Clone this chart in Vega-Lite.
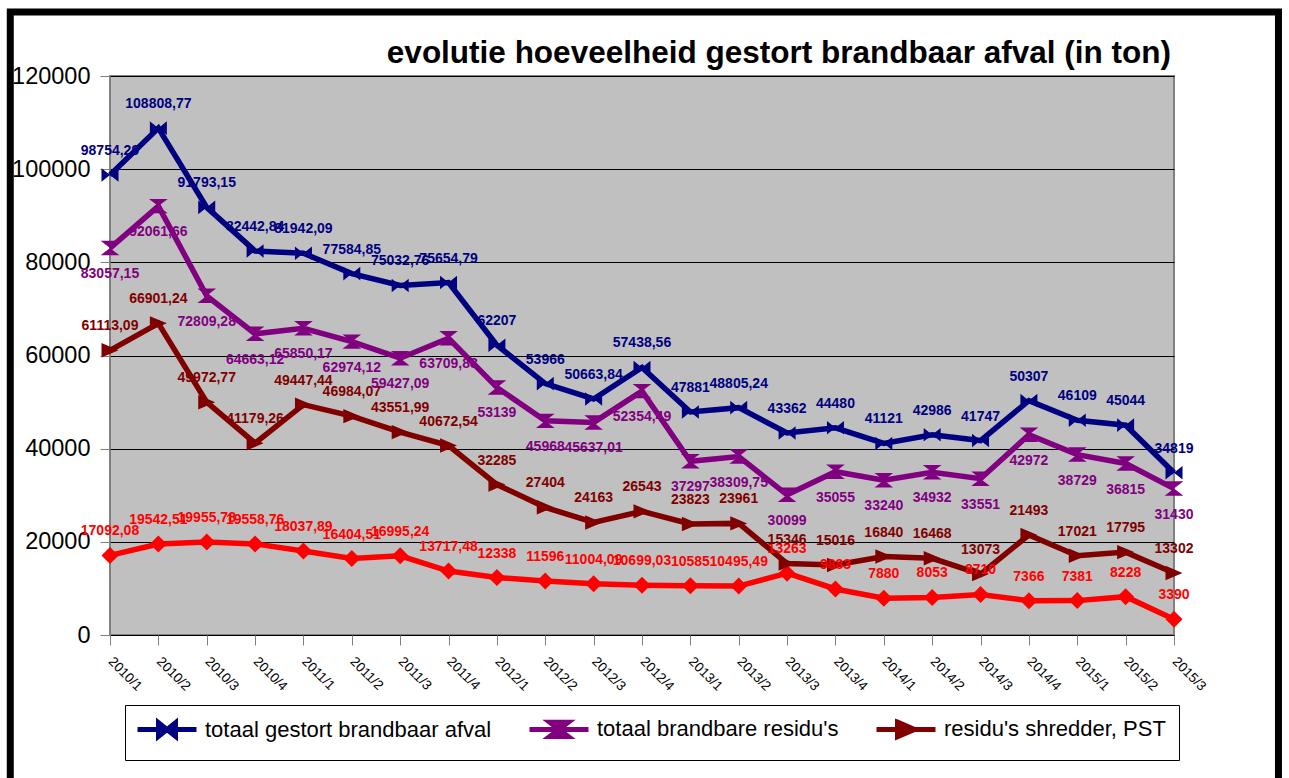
{
  "$schema": "https://vega.github.io/schema/vega-lite/v6.json",
  "autosize": {"type": "none"},
  "width": 1064,
  "height": 559,
  "padding": {"left": 110, "top": 76, "right": 115, "bottom": 143},
  "background": "#FFFFFF",
  "title": {
    "text": "evolutie hoeveelheid gestort brandbaar afval (in ton)",
    "anchor": "end",
    "frame": "group",
    "font": "Liberation Sans",
    "fontSize": 31.5,
    "fontWeight": "bold",
    "color": "#000000",
    "baseline": "alphabetic",
    "offset": 0,
    "dy": 86,
    "dx": -3
  },
  "datasets": {
    "kwartalen": [
      {"i": 0, "q": "2010/1", "g": 98754.29, "r": 83057.15, "s": 61113.09, "o": 17092.08},
      {"i": 1, "q": "2010/2", "g": 108808.77, "r": 92061.66, "s": 66901.24, "o": 19542.51},
      {"i": 2, "q": "2010/3", "g": 91793.15, "r": 72809.28, "s": 49972.77, "o": 19955.78},
      {"i": 3, "q": "2010/4", "g": 82442.84, "r": 64663.12, "s": 41179.26, "o": 19558.76},
      {"i": 4, "q": "2011/1", "g": 81942.09, "r": 65850.17, "s": 49447.44, "o": 18037.89},
      {"i": 5, "q": "2011/2", "g": 77584.85, "r": 62974.12, "s": 46984.07, "o": 16404.51},
      {"i": 6, "q": "2011/3", "g": 75032.76, "r": 59427.09, "s": 43551.99, "o": 16995.24},
      {"i": 7, "q": "2011/4", "g": 75654.79, "r": 63709.88, "s": 40672.54, "o": 13717.48},
      {"i": 8, "q": "2012/1", "g": 62207, "r": 53139, "s": 32285, "o": 12338},
      {"i": 9, "q": "2012/2", "g": 53966, "r": 45968, "s": 27404, "o": 11596},
      {"i": 10, "q": "2012/3", "g": 50663.84, "r": 45637.01, "s": 24163, "o": 11004.09},
      {"i": 11, "q": "2012/4", "g": 57438.56, "r": 52354.49, "s": 26543, "o": 10699.03},
      {"i": 12, "q": "2013/1", "g": 47881, "r": 37297, "s": 23823, "o": 10585},
      {"i": 13, "q": "2013/2", "g": 48805.24, "r": 38309.75, "s": 23961, "o": 10495.49},
      {"i": 14, "q": "2013/3", "g": 43362, "r": 30099, "s": 15346, "o": 13263},
      {"i": 15, "q": "2013/4", "g": 44480, "r": 35055, "s": 15016, "o": 9883},
      {"i": 16, "q": "2014/1", "g": 41121, "r": 33240, "s": 16840, "o": 7880},
      {"i": 17, "q": "2014/2", "g": 42986, "r": 34932, "s": 16468, "o": 8053},
      {"i": 18, "q": "2014/3", "g": 41747, "r": 33551, "s": 13073, "o": 8710},
      {"i": 19, "q": "2014/4", "g": 50307, "r": 42972, "s": 21493, "o": 7366},
      {"i": 20, "q": "2015/1", "g": 46109, "r": 38729, "s": 17021, "o": 7381},
      {"i": 21, "q": "2015/2", "g": 45044, "r": 36815, "s": 17795, "o": 8228},
      {"i": 22, "q": "2015/3", "g": 34819, "r": 31430, "s": 13302, "o": 3390}
    ]
  },
  "data": {"name": "kwartalen"},
  "transform": [
    {"fold": ["o", "s", "r", "g"], "as": ["reeks", "ton"]},
    {"calculate": "replace(toString(datum.ton), '.', ',')", "as": "lbl"},
    {"calculate": "datum.reeks", "as": "merk"}
  ],
  "layer": [
    {
      "mark": {"type": "line", "strokeWidth": 5.5, "strokeJoin": "miter"},
      "encoding": {
        "x": {
          "field": "i", "type": "quantitative",
          "scale": {"domain": [0, 22], "nice": false, "zero": false},
          "axis": {
            "title": null, "values": [0,1,2,3,4,5,6,7,8,9,10,11,12,13,14,15,16,17,18,19,20,21,22],
            "labelExpr": "(floor(datum.value / 4) + 2010) + '/' + (datum.value % 4 + 1)",
            "domain": false, "grid": false, "ticks": true, "tickSize": 10, "tickColor": "#808080", "tickWidth": 1,
            "labelAngle": 45, "labelAlign": "left", "labelBaseline": "middle", "labelPadding": 14,
            "labelFont": "Liberation Sans", "labelFontSize": 13.5, "labelColor": "#000000", "labelOverlap": false
          }
        },
        "y": {
          "field": "ton", "type": "quantitative",
          "scale": {"domain": [0, 120000], "nice": false, "zero": false},
          "axis": {
            "title": null, "values": [0, 20000, 40000, 60000, 80000, 100000, 120000], "format": "d",
            "domain": false, "grid": true, "gridColor": "#000000", "gridWidth": 1, "gridOpacity": 1,
            "ticks": true, "tickSize": 10, "tickColor": "#808080", "tickWidth": 1,
            "labelPadding": 10, "labelFont": "Liberation Sans", "labelFontSize": 23.5, "labelColor": "#000000"
          }
        },
        "color": {
          "field": "reeks", "type": "nominal",
          "scale": {"domain": ["g", "r", "s", "o"], "range": ["#000080", "#800080", "#800000", "#FF0000"]},
          "legend": {
            "orient": "none", "legendX": 15, "legendY": 629, "direction": "horizontal",
            "title": " ", "titleOrient": "left", "titleFontSize": 1, "titlePadding": 18,
            "values": ["g", "r", "s"],
            "labelExpr": "datum.value === 'g' ? 'totaal gestort brandbaar afval' : datum.value === 'r' ? \"totaal brandbare residu's\" : \"residu's shredder, PST\"",
            "strokeColor": "#000000", "fillColor": "#FFFFFF", "padding": 13,
            "labelFont": "Liberation Sans", "labelFontSize": 22, "labelColor": "#000000", "labelLimit": 500,
            "symbolSize": 289, "labelOffset": 27, "columnPadding": 27, "symbolStrokeWidth": 5, "symbolOpacity": 1
          }
        },
        "order": {"field": "i", "type": "quantitative"}
      }
    },
    {
      "mark": {"type": "point", "filled": true, "opacity": 1, "strokeWidth": 0},
      "encoding": {
        "x": {"field": "i", "type": "quantitative"},
        "y": {"field": "ton", "type": "quantitative"},
        "color": {"field": "reeks", "type": "nominal"},
        "stroke": {
          "field": "reeks", "type": "nominal",
          "scale": {"domain": ["g", "r", "s", "o"], "range": ["#000080", "#800080", "#800000", "#FF0000"]},
          "legend": {
            "orient": "none", "legendX": 15, "legendY": 629, "direction": "horizontal",
            "title": " ", "titleOrient": "left", "titleFontSize": 1, "titlePadding": 18,
            "values": ["g", "r", "s"],
            "labelExpr": "datum.value === 'g' ? 'totaal gestort brandbaar afval' : datum.value === 'r' ? \"totaal brandbare residu's\" : \"residu's shredder, PST\"",
            "strokeColor": "#000000", "fillColor": "#FFFFFF", "padding": 13,
            "labelFont": "Liberation Sans", "labelFontSize": 22, "labelColor": "#000000", "labelLimit": 500,
            "symbolSize": 289, "labelOffset": 27, "columnPadding": 27, "symbolStrokeWidth": 5, "symbolOpacity": 1
          }
        },
        "shape": {
          "field": "reeks", "type": "nominal",
          "scale": {"domain": ["g", "r", "s", "o"], "range": ["M-3.47,0H3.47M-1,-0.8L1,0.8L1,-0.8L-1,0.8Z", "M-3.47,0H3.47M-1.1,-0.85L1.1,-0.85L-1.1,0.85L1.1,0.85Z", "M-3.47,0H3.47M-1,-0.85L1,0L-1,0.85Z", "M0,-1L1,0L0,1L-1,0Z"]}
        },
        "size": {
          "field": "merk", "type": "nominal",
          "scale": {"domain": ["g", "r", "s", "o"], "range": [289, 289, 289, 289]},
          "legend": null
        }
      }
    },
    {
      "transform": [{"filter": "datum.reeks !== 'r'"}],
      "mark": {"type": "text", "font": "Liberation Sans", "fontSize": 14, "fontWeight": "bold", "dy": -24, "baseline": "middle", "align": "center"},
      "encoding": {
        "x": {"field": "i", "type": "quantitative"},
        "y": {"field": "ton", "type": "quantitative"},
        "text": {"field": "lbl"},
        "color": {"field": "reeks", "type": "nominal"}
      }
    },
    {
      "transform": [{"filter": "datum.reeks === 'r'"}],
      "mark": {"type": "text", "font": "Liberation Sans", "fontSize": 14, "fontWeight": "bold", "dy": 26, "baseline": "middle", "align": "center"},
      "encoding": {
        "x": {"field": "i", "type": "quantitative"},
        "y": {"field": "ton", "type": "quantitative"},
        "text": {"field": "lbl"},
        "color": {"field": "reeks", "type": "nominal"}
      }
    },
    {
      "data": {"values": [{}]},
      "transform": [],
      "mark": {"type": "rect", "fill": null, "fillOpacity": 0, "stroke": "#000000", "strokeWidth": 7},
      "encoding": {
        "x": {"datum": -2.062, "type": "quantitative"},
        "x2": {"datum": 24.16},
        "y": {"datum": -40000, "type": "quantitative"},
        "y2": {"datum": 133740}
      }
    }
  ],
  "config": {
    "view": {"fill": "#C0C0C0", "stroke": "#808080", "strokeWidth": 2}
  }
}
